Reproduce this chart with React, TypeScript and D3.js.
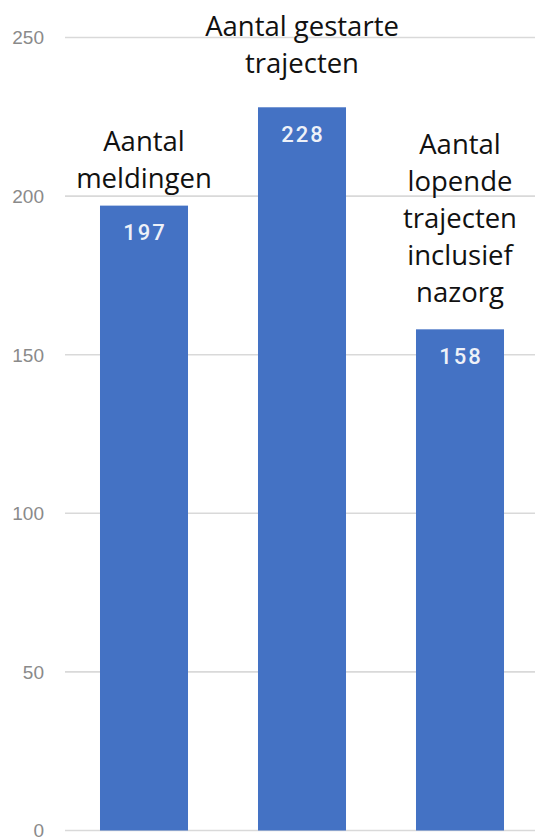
import React from "react";
import * as d3 from "d3";

const categories: string[][] = [
  ["Aantal", "meldingen"],
  ["Aantal gestarte", "trajecten"],
  ["Aantal", "lopende", "trajecten", "inclusief", "nazorg"],
];
const values: number[] = [197, 228, 158];
const yTicks: number[] = [0, 50, 100, 150, 200, 250];

// annotation layout (gap between last label baseline and bar top)
const labelGaps = [17.6, 34, 27.6];

const W = 535;
const H = 838;
const BAR = "#4472C4";

export default function App() {
  const x = d3
    .scaleBand<number>()
    .domain(d3.range(values.length))
    .range([65, 539])
    .paddingInner(0.443)
    .paddingOuter(0.2215);
  const y = d3.scaleLinear().domain([0, 250]).range([830.5, 37.5]);
  const lineH = 37;

  return (
    <svg
      width={W}
      height={H}
      style={{ position: "absolute", left: 0, top: 0, background: "#fff" }}
    >
      {yTicks.map((t) => (
        <g key={t}>
          <line
            x1={65}
            x2={W}
            y1={y(t)}
            y2={y(t)}
            stroke="#d9d9d9"
            strokeWidth={1.6}
          />
          <text
            x={44}
            y={y(t)}
            dy="0.36em"
            textAnchor="end"
            fontFamily="Liberation Sans, Arial, sans-serif"
            fontSize={19}
            fill="#8a8a8a"
          >
            {t}
          </text>
        </g>
      ))}
      {values.map((v, i) => {
        const cx = (x(i) as number) + x.bandwidth() / 2;
        const lines = categories[i];
        const lastBase = y(v) - labelGaps[i];
        return (
          <g key={i}>
            <rect
              x={x(i)}
              y={y(v)}
              width={x.bandwidth()}
              height={y(0) - y(v)}
              fill={BAR}
            />
            <text
              x={cx + 1}
              y={y(v) + 34.5}
              textAnchor="middle"
              fontFamily="Roboto, Liberation Sans, sans-serif"
              fontSize={22}
              fontWeight={500}
              letterSpacing={2}
              fill="#eef1f8"
            >
              {v}
            </text>
            <text
              textAnchor="middle"
              fontFamily="Open Sans, Noto Sans, sans-serif"
              fontSize={27.5}
              fill="#111"
            >
              {lines.map((l, k) => (
                <tspan
                  key={k}
                  x={cx}
                  y={lastBase - (lines.length - 1 - k) * lineH}
                >
                  {l}
                </tspan>
              ))}
            </text>
          </g>
        );
      })}
    </svg>
  );
}
